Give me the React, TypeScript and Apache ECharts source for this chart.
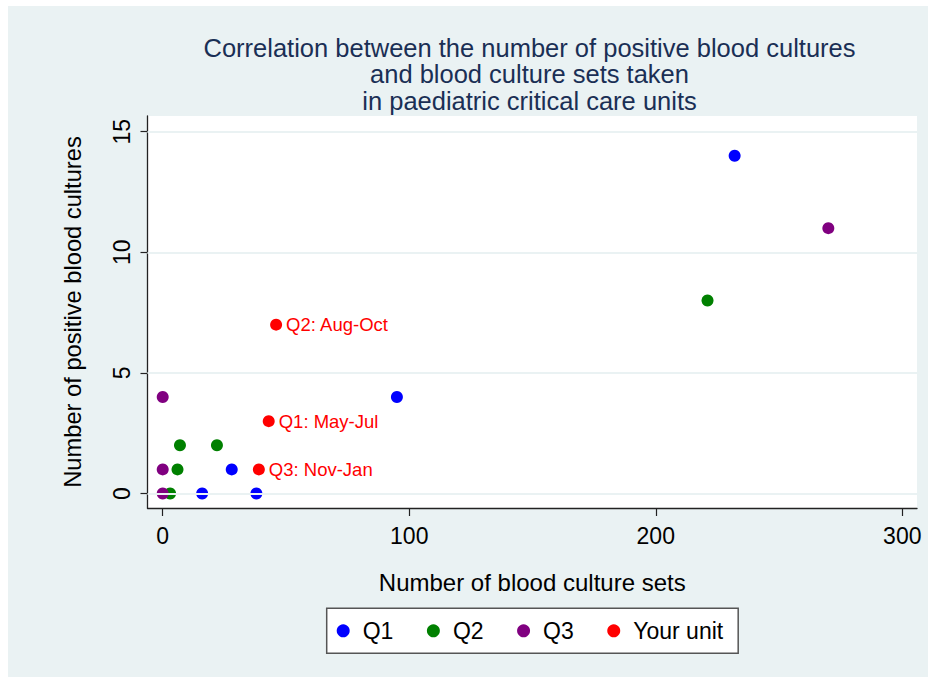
import React, { useEffect, useRef } from "react";
import * as echarts from "echarts";

const titleLines = [
  "Correlation between the number of positive blood cultures",
  "and blood culture sets taken",
  "in paediatric critical care units",
];
const xTitle = "Number of blood culture sets";
const yTitle = "Number of positive blood cultures";

const xTicks = [0, 100, 200, 300];
const yTicks = [0, 5, 10, 15];

const seriesNames = ["Q1", "Q2", "Q3", "Your unit"];
const seriesColors = ["#0000FF", "#008000", "#800080", "#FF0000"];

const q1X = [232, 95, 28, 16, 38];
const q1Y = [14, 4, 1, 0, 0];
const q2X = [221, 7, 22, 6, 3];
const q2Y = [8, 2, 2, 1, 0];
const q3X = [270, 0, 0, 0];
const q3Y = [11, 4, 1, 0];
const unitX = [43, 46, 39];
const unitY = [3, 7, 1];
const unitLabels = ["Q1: May-Jul", "Q2: Aug-Oct", "Q3: Nov-Jan"];

const FONT = '"Liberation Sans", Arial, Helvetica, sans-serif';
const BG = "#EAF2F3";

function pairs(xs: number[], ys: number[]) {
  return xs.map((x, i) => [x, ys[i]]);
}

export default function App() {
  const ref = useRef<HTMLDivElement>(null);

  useEffect(() => {
    if (!ref.current) return;
    const chart = echarts.init(ref.current, undefined, { renderer: "svg" });
    const allData = [pairs(q1X, q1Y), pairs(q2X, q2Y), pairs(q3X, q3Y), pairs(unitX, unitY)];

    const scatterSeries = allData.map((d, i) => ({
      type: "scatter",
      name: seriesNames[i],
      data: d,
      symbol: "circle",
      symbolSize: 12,
      z: 3,
      itemStyle: { color: seriesColors[i], opacity: 1 },
      label:
        i === 3
          ? {
              show: true,
              position: "right",
              distance: 4,
              formatter: (p: any) => unitLabels[p.dataIndex],
              color: "#FF0000",
              fontSize: 18.5,
              fontFamily: FONT,
            }
          : { show: false },
      emphasis: { disabled: true },
    }));

    chart.setOption({
      animation: false,
      backgroundColor: BG,
      graphic: titleLines.map((line, i) => ({
        type: "text",
        x: 521.5,
        y: 28.5 + i * 26.5,
        style: {
          text: line,
          fill: "#1A2F55",
          fontSize: 25.5,
          fontFamily: FONT,
          lineHeight: 26,
          align: "center",
          verticalAlign: "top",
        },
      })),
      grid: {
        left: 139.5,
        right: 11,
        top: 110,
        bottom: 169,
        show: true,
        backgroundColor: "#FFFFFF",
        borderWidth: 0,
        containLabel: false,
      },
      legend: {
        data: seriesNames,
        left: 318.7,
        top: 602.3,
        orient: "horizontal",
        icon: "circle",
        itemWidth: 13,
        itemHeight: 13,
        itemGap: 33.5,
        padding: [11, 15, 11, 10],
        backgroundColor: "#FFFFFF",
        borderColor: "#555555",
        borderWidth: 1.5,
        borderRadius: 0,
        selectedMode: false,
        textStyle: {
          color: "#000000",
          fontSize: 23,
          fontFamily: FONT,
          lineHeight: 23,
          padding: [0, 0, 0, 8],
        },
      },
      xAxis: {
        type: "value",
        min: -6.17,
        max: 305.97,
        name: xTitle,
        nameLocation: "middle",
        nameGap: 62,
        nameTextStyle: { color: "#000", fontSize: 24, fontFamily: FONT, lineHeight: 24 },
        axisLine: { show: true, onZero: false, lineStyle: { color: "#222", width: 1.3 } },
        axisTick: { show: true, length: 8, customValues: xTicks, lineStyle: { color: "#222", width: 1.2 } },
        axisLabel: {
          show: true,
          customValues: xTicks,
          margin: 16,
          color: "#000",
          fontSize: 23,
          fontFamily: FONT,
          lineHeight: 23,
        },
        splitLine: { show: false },
      },
      yAxis: {
        type: "value",
        min: -0.6,
        max: 15.65,
        name: yTitle,
        nameLocation: "middle",
        nameRotate: 90,
        nameGap: 63,
        nameTextStyle: { color: "#000", fontSize: 23.7, fontFamily: FONT, lineHeight: 24 },
        axisLine: { show: true, onZero: false, lineStyle: { color: "#222", width: 1.3 } },
        axisTick: { show: true, length: 7, customValues: yTicks, lineStyle: { color: "#222", width: 1.2 } },
        axisLabel: {
          show: true,
          customValues: yTicks,
          rotate: 90,
          margin: 14,
          color: "#000",
          fontSize: 23,
          fontFamily: FONT,
          lineHeight: 23,
        },
        splitLine: { show: false },
      },
      series: [
        {
          type: "scatter",
          name: "grid",
          data: [],
          z: 1,
          silent: true,
          markLine: {
            silent: true,
            symbol: "none",
            label: { show: false },
            lineStyle: { color: BG, width: 2, type: "solid" },
            emphasis: { disabled: true },
            data: yTicks.map((v) => ({ yAxis: v })),
          },
        },
        ...scatterSeries,
      ],
    });
    return () => chart.dispose();
  }, []);

  return (
    <div
      ref={ref}
      style={{ position: "fixed", left: 8, top: 6, width: 920, height: 671 }}
    />
  );
}
